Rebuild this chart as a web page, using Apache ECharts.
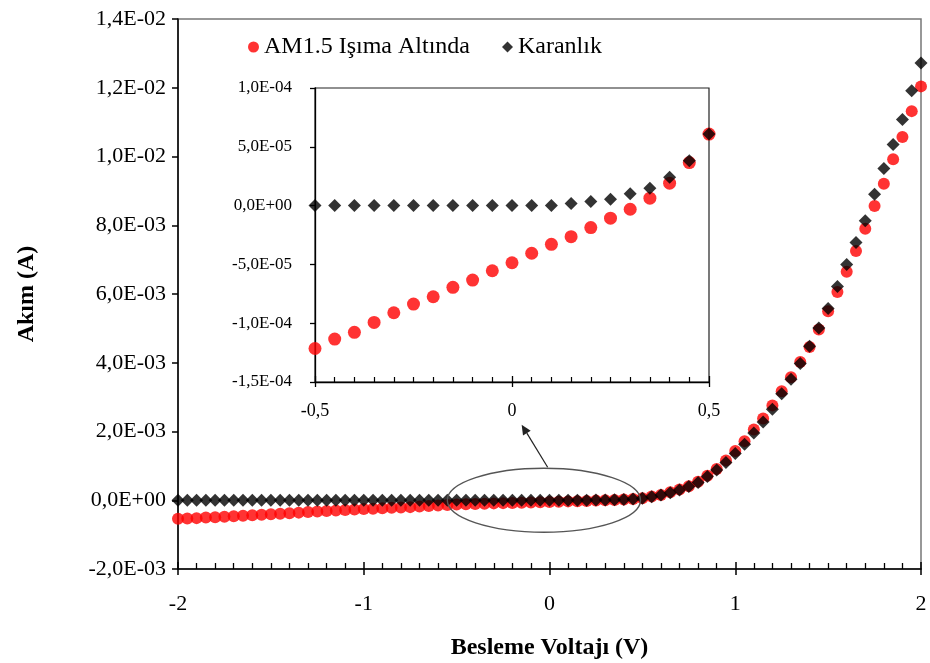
<!DOCTYPE html>
<html>
<head>
<meta charset="utf-8">
<script src="https://cdn.jsdelivr.net/npm/echarts@6/dist/echarts.min.js"></script>
<style>
  html, body { margin: 0; padding: 0; background: #fff; }
  #chart { width: 930px; height: 663px; }
</style>
</head>
<body>
<div id="chart"></div>
<script>
// Bias voltage (V)
const volts = [
  -2.00, -1.95, -1.90, -1.85, -1.80, -1.75, -1.70, -1.65, -1.60, -1.55,
  -1.50, -1.45, -1.40, -1.35, -1.30, -1.25, -1.20, -1.15, -1.10, -1.05,
  -1.00, -0.95, -0.90, -0.85, -0.80, -0.75, -0.70, -0.65, -0.60, -0.55,
  -0.50, -0.45, -0.40, -0.35, -0.30, -0.25, -0.20, -0.15, -0.10, -0.05,
   0.00,  0.05,  0.10,  0.15,  0.20,  0.25,  0.30,  0.35,  0.40,  0.45,
   0.50,  0.55,  0.60,  0.65,  0.70,  0.75,  0.80,  0.85,  0.90,  0.95,
   1.00,  1.05,  1.10,  1.15,  1.20,  1.25,  1.30,  1.35,  1.40,  1.45,
   1.50,  1.55,  1.60,  1.65,  1.70,  1.75,  1.80,  1.85,  1.90,  1.95,
   2.00
];

// Current under AM1.5 illumination (A)
const currentLight = [
  -5.40e-4, -5.30e-4, -5.20e-4, -5.05e-4, -4.95e-4, -4.80e-4, -4.65e-4, -4.50e-4, -4.35e-4, -4.20e-4,
  -4.05e-4, -3.90e-4, -3.75e-4, -3.60e-4, -3.45e-4, -3.30e-4, -3.15e-4, -3.00e-4, -2.85e-4, -2.70e-4,
  -2.55e-4, -2.45e-4, -2.35e-4, -2.20e-4, -2.10e-4, -2.00e-4, -1.85e-4, -1.70e-4, -1.55e-4, -1.35e-4,
  -1.215e-4, -1.135e-4, -1.078e-4, -9.93e-5, -9.11e-5, -8.37e-5, -7.75e-5, -6.95e-5, -6.33e-5, -5.54e-5,
  -4.86e-5, -4.05e-5, -3.29e-5, -2.64e-5, -1.87e-5, -1.07e-5, -3.1e-6, 6.3e-6, 1.91e-5, 3.66e-5,
  6.08e-5, 1.10e-4, 1.50e-4, 2.30e-4, 3.10e-4, 4.10e-4, 5.40e-4, 7.10e-4, 9.10e-4, 1.16e-3,
  1.43e-3, 1.72e-3, 2.06e-3, 2.38e-3, 2.76e-3, 3.17e-3, 3.58e-3, 4.02e-3, 4.46e-3, 4.97e-3,
  5.50e-3, 6.06e-3, 6.65e-3, 7.25e-3, 7.90e-3, 8.56e-3, 9.21e-3, 9.92e-3, 1.057e-2, 1.132e-2,
  1.204e-2
];

// Current in the dark (A)
const currentDark = [
  0, 0, 0, 0, 0, 0, 0, 0, 0, 0,
  0, 0, 0, 0, 0, 0, 0, 0, 0, 0,
  0, 0, 0, 0, 0, 0, 0, 0, 0, 0,
  0, 0, 0, 0, 0, 0, 0, 0, 0, 0,
  0, 0, 0, 1.7e-6, 3.4e-6, 5.4e-6, 1.0e-5, 1.48e-5, 2.42e-5, 3.81e-5,
  6.08e-5, 1.00e-4, 1.50e-4, 2.20e-4, 3.00e-4, 4.00e-4, 5.20e-4, 6.90e-4, 8.80e-4, 1.10e-3,
  1.36e-3, 1.63e-3, 1.96e-3, 2.28e-3, 2.65e-3, 3.10e-3, 3.52e-3, 3.98e-3, 4.48e-3, 5.01e-3,
  5.58e-3, 6.22e-3, 6.86e-3, 7.50e-3, 8.13e-3, 8.90e-3, 9.65e-3, 1.035e-2, 1.108e-2, 1.191e-2,
  1.272e-2
];

const seriesNames = ['AM1.5 Işıma Altında', 'Karanlık'];
const axisTitles = { x: 'Besleme Voltajı (V)', y: 'Akım (A)' };

// Zoomed window shown in the inset
const insetRange = [-0.5, 0.5];

const FONT = '"Liberation Serif", "Times New Roman", serif';

// "1,4E-02" style scientific labels with a decimal comma
function sciLabel(v) {
  if (Math.abs(v) < 1e-12) return '0,0E+00';
  let exp = Math.floor(Math.log10(Math.abs(v)));
  let mant = Math.round(v / Math.pow(10, exp) * 10) / 10;
  if (Math.abs(mant) >= 10) { mant /= 10; exp += 1; }
  const sign = exp < 0 ? '-' : '+';
  const e = String(Math.abs(exp)).padStart(2, '0');
  return mant.toFixed(1).replace('.', ',') + 'E' + sign + e;
}
function commaLabel(v) {
  return String(Math.round(v * 100) / 100).replace('.', ',');
}

function pairs(ys) {
  return volts.map((v, i) => [v, ys[i]]);
}
function insetPairs(ys) {
  return volts.map((v, i) => [v, ys[i]])
    .filter(p => p[0] >= insetRange[0] - 1e-9 && p[0] <= insetRange[1] + 1e-9);
}

const chart = echarts.init(document.getElementById('chart'), null, { renderer: 'canvas' });

const option = {
  animation: false,
  backgroundColor: '#fff',
  textStyle: { fontFamily: FONT },
  legend: {
    left: 243, top: 30,
    itemWidth: 11, itemHeight: 11, itemGap: 32,
    textStyle: { fontFamily: FONT, fontSize: 24, color: '#000' },
    data: [
      { name: seriesNames[0], icon: 'circle' },
      { name: seriesNames[1], icon: 'diamond' }
    ]
  },
  grid: [
    { left: 178, right: 9, top: 19, bottom: 94, show: true, containLabel: false,
      outerBoundsMode: 'none',
      borderColor: '#777', borderWidth: 1.5, backgroundColor: 'transparent' },
    { left: 315, width: 394, top: 88, height: 294, show: true, containLabel: false,
      outerBoundsMode: 'none',
      borderColor: '#222', borderWidth: 1.2, backgroundColor: '#fff' }
  ],
  xAxis: [
    { gridIndex: 0, type: 'value', min: -2, max: 2, interval: 1,
      name: axisTitles.x, nameLocation: 'middle', nameGap: 67,
      nameTextStyle: { fontFamily: FONT, fontSize: 24, fontWeight: 'bold', color: '#000' },
      axisLine: { show: true, onZero: false, lineStyle: { color: '#000', width: 1.5 } },
      axisTick: { show: true, inside: true, length: 7, lineStyle: { color: '#000', width: 1.5 } },
      minorTick: { show: true, splitNumber: 10, length: 6, lineStyle: { color: '#000', width: 1.3 } },
      splitLine: { show: false },
      axisLabel: { margin: 24, fontFamily: FONT, fontSize: 22, color: '#000', formatter: v => String(v) }
    },
    { gridIndex: 0, type: 'value', min: -2, max: 2, interval: 1, position: 'bottom',
      axisLine: { show: false, onZero: false },
      axisTick: { show: true, inside: false, length: 6, lineStyle: { color: '#000', width: 1.5 } },
      splitLine: { show: false }, axisLabel: { show: false }
    },
    { gridIndex: 1, type: 'value', min: insetRange[0], max: insetRange[1], interval: 0.5,
      axisLine: { show: true, onZero: false, lineStyle: { color: '#000', width: 1.3 } },
      axisTick: { show: true, inside: true, length: 6, lineStyle: { color: '#000', width: 1.3 } },
      minorTick: { show: true, splitNumber: 10, length: 5, lineStyle: { color: '#000', width: 1.2 } },
      splitLine: { show: false },
      axisLabel: { margin: 20, fontFamily: FONT, fontSize: 18, color: '#000', formatter: commaLabel }
    },
    { gridIndex: 1, type: 'value', min: insetRange[0], max: insetRange[1], interval: 0.5, position: 'bottom',
      axisLine: { show: false, onZero: false },
      axisTick: { show: true, inside: false, length: 5, lineStyle: { color: '#000', width: 1.3 } },
      splitLine: { show: false }, axisLabel: { show: false }
    }
  ],
  yAxis: [
    { gridIndex: 0, type: 'value', min: -0.002, max: 0.014, interval: 0.002,
      name: axisTitles.y, nameLocation: 'middle', nameGap: 139, nameRotate: 90,
      nameTextStyle: { fontFamily: FONT, fontSize: 24, fontWeight: 'bold', color: '#000' },
      axisLine: { show: true, onZero: false, lineStyle: { color: '#000', width: 1.5 } },
      axisTick: { show: true, inside: false, length: 6, lineStyle: { color: '#000', width: 1.5 } },
      splitLine: { show: false },
      axisLabel: { margin: 12, fontFamily: FONT, fontSize: 22, color: '#000', formatter: sciLabel }
    },
    { gridIndex: 1, type: 'value', min: -1.5e-4, max: 1e-4, interval: 5e-5,
      axisLine: { show: true, onZero: false, lineStyle: { color: '#000', width: 1.3 } },
      axisTick: { show: true, inside: false, length: 5, lineStyle: { color: '#000', width: 1.3 } },
      splitLine: { show: false },
      axisLabel: { margin: 23, fontFamily: FONT, fontSize: 17, color: '#000', formatter: sciLabel }
    }
  ],
  series: [
    { name: seriesNames[0], type: 'scatter', xAxisIndex: 0, yAxisIndex: 0,
      symbol: 'circle', symbolSize: 12, itemStyle: { color: '#ff0000' },
      data: pairs(currentLight), z: 2 },
    { name: seriesNames[1], type: 'scatter', xAxisIndex: 0, yAxisIndex: 0,
      symbol: 'diamond', symbolSize: 13, itemStyle: { color: '#000' },
      data: pairs(currentDark), z: 3 },
    { name: seriesNames[0], type: 'scatter', xAxisIndex: 2, yAxisIndex: 1,
      symbol: 'circle', symbolSize: 13, itemStyle: { color: '#ff0000' },
      data: insetPairs(currentLight), z: 4, clip: false },
    { name: seriesNames[1], type: 'scatter', xAxisIndex: 2, yAxisIndex: 1,
      symbol: 'diamond', symbolSize: 13, itemStyle: { color: '#000' },
      data: insetPairs(currentDark), z: 5, clip: false }
  ]
};

chart.setOption(option);

// Ellipse around the region magnified in the inset, and a pointer toward it
const zoomOval = { center: [-0.03, 0], halfWidth: 0.52, halfHeight: 9.3e-4 };
const pointer = { from: [-0.01, 9.6e-4], to: [-0.15, 2.2e-3] };

function px(pt) { return chart.convertToPixel({ gridIndex: 0 }, pt); }

const c = px(zoomOval.center);
const edgeX = px([zoomOval.center[0] + zoomOval.halfWidth, 0]);
const edgeY = px([0, zoomOval.halfHeight]);
const a = px(pointer.from);
const b = px(pointer.to);
const dx = b[0] - a[0], dy = b[1] - a[1];
const len = Math.hypot(dx, dy);
const ux = dx / len, uy = dy / len;
const headL = 10, headW = 4.5;
const base = [b[0] - ux * headL, b[1] - uy * headL];

chart.setOption({
  graphic: [
    { type: 'ellipse', z: 10,
      shape: { cx: c[0], cy: c[1], rx: edgeX[0] - c[0], ry: c[1] - edgeY[1] },
      style: { fill: 'none', stroke: '#555', lineWidth: 1.4 } },
    { type: 'line', z: 10,
      shape: { x1: a[0], y1: a[1], x2: base[0], y2: base[1] },
      style: { stroke: '#222', lineWidth: 1.2 } },
    { type: 'polygon', z: 10,
      shape: { points: [
        [b[0], b[1]],
        [base[0] - uy * headW, base[1] + ux * headW],
        [base[0] + uy * headW, base[1] - ux * headW]
      ] },
      style: { fill: '#222' } }
  ]
});
</script>
</body>
</html>
